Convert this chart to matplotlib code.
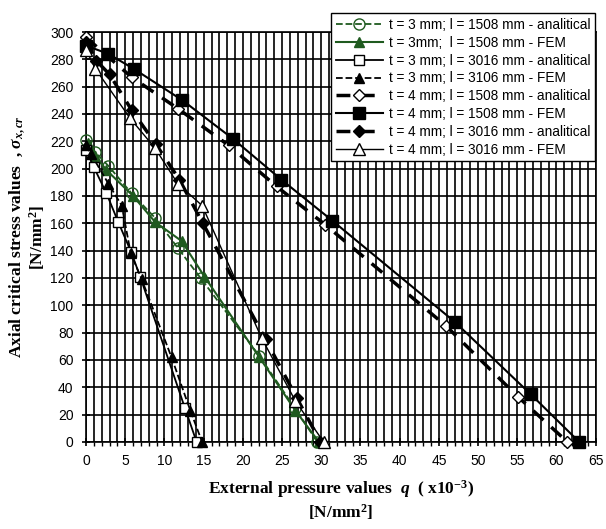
import matplotlib
matplotlib.use("Agg")
from matplotlib import pyplot as plt
from matplotlib.ticker import MultipleLocator

# data (q in x10^-3 N/mm2, sigma in N/mm2)
q_3_1508_an = [0, 1.2, 2.85, 5.8, 8.8, 11.7, 14.6, 22.1, 26.6, 29.5]
s_3_1508_an = [221, 212, 202, 182, 164, 142, 120, 63, 25, 0]

q_3_1508_fem = [0.3, 1.2, 2.6, 6.0, 8.8, 12.2, 15.1, 22.1, 26.7, 29.7]
s_3_1508_fem = [219, 209, 199, 180, 161, 147, 121, 62, 23, 0]

q_3_3016_an = [0, 1.0, 2.6, 4.1, 5.75, 6.9, 12.6, 14.1]
s_3_3016_an = [214, 201, 182, 161, 139, 121, 25, 0]

q_3_3106_fem = [0, 0.6, 2.85, 4.55, 5.7, 7.1, 10.9, 13.3, 14.8]
s_3_3106_fem = [217, 211, 189, 173, 138, 119, 62, 23, 0]

q_4_1508_an = [0, 5.8, 11.7, 18.2, 24.3, 30.5, 45.9, 55.1, 61.4]
s_4_1508_an = [296, 267, 244, 217, 187, 159, 85, 33, 0]

q_4_1508_fem = [0, 2.85, 6.1, 12.3, 18.7, 24.9, 31.4, 47.0, 56.7, 62.9]
s_4_1508_fem = [290, 284, 273, 250, 222, 192, 162, 88, 35, 0]

q_4_3016_an = [0, 1.3, 3.0, 5.8, 8.9, 11.9, 14.9, 22.9, 26.9, 29.9]
s_4_3016_an = [293, 279, 269, 243, 218, 192, 160, 75, 32, 0]

q_4_3016_fem = [0, 1.2, 5.6, 8.8, 11.7, 14.8, 22.4, 26.7, 30.3]
s_4_3016_fem = [287, 273, 237, 215, 189, 173, 76, 30, 0]

green = '#1f5a1f'

plt.rcParams['font.family'] = 'Liberation Sans'
plt.rcParams['mathtext.fontset'] = 'custom'
plt.rcParams['mathtext.rm'] = 'Liberation Serif:bold'
plt.rcParams['mathtext.it'] = 'Liberation Serif:italic:bold'
plt.rcParams['mathtext.bf'] = 'Liberation Serif:bold'
plt.rcParams['mathtext.bfit'] = 'Liberation Serif:italic:bold'

fig = plt.figure(figsize=(6.06, 5.29), dpi=100)
ax = fig.add_axes([0.142, 0.1645, 0.841, 0.775])

ax.plot(q_3_1508_an, s_3_1508_an, color=green, ls='--', lw=1.3, marker='o', ms=8,
        mfc='none', mec=green, label='t = 3 mm; l = 1508 mm - analitical', clip_on=False, zorder=3)
ax.plot(q_3_1508_fem, s_3_1508_fem, color=green, ls='-', lw=1.5, marker='^', ms=7,
        mfc=green, mec=green, label='t = 3mm;  l = 1508 mm - FEM', clip_on=False, zorder=3)
ax.plot(q_3_3016_an, s_3_3016_an, color='black', ls='-', lw=1.3, marker='s', ms=7,
        mfc='white', mec='black', label='t = 3 mm; l = 3016 mm - analitical', clip_on=False, zorder=3)
ax.plot(q_3_3106_fem, s_3_3106_fem, color='black', ls='--', lw=1.3, marker='^', ms=7,
        mfc='black', mec='black', label='t = 3 mm; l = 3106 mm - FEM', clip_on=False, zorder=3)
ax.plot(q_4_1508_an, s_4_1508_an, color='black', ls=(0, (4, 3)), lw=2.5, marker='D', ms=6,
        mfc='white', mec='black', label='t = 4 mm; l = 1508 mm - analitical', clip_on=False, zorder=3)
ax.plot(q_4_1508_fem, s_4_1508_fem, color='black', ls='-', lw=1.5, marker='s', ms=8,
        mfc='black', mec='black', label='t = 4 mm; l = 1508 mm - FEM', clip_on=False, zorder=3)
ax.plot(q_4_3016_an, s_4_3016_an, color='black', ls=(0, (4, 3)), lw=2.5, marker='D', ms=6,
        mfc='black', mec='black', label='t = 4 mm; l = 3016 mm - analitical', clip_on=False, zorder=3)
ax.plot(q_4_3016_fem, s_4_3016_fem, color='black', ls='-', lw=1.0, marker='^', ms=8,
        mfc='white', mec='black', label='t = 4 mm; l = 3016 mm - FEM', clip_on=False, zorder=3)

ax.set_xlim(0, 65)
ax.set_ylim(0, 300)
ax.xaxis.set_major_locator(MultipleLocator(5))
ax.xaxis.set_minor_locator(MultipleLocator(1))
ax.yaxis.set_major_locator(MultipleLocator(20))
ax.grid(True, which='major', color='black', lw=1.2)
ax.grid(True, which='minor', axis='x', color='black', lw=1.2)
ax.tick_params(which='major', direction='inout', length=6, width=1.2, labelsize=10, pad=6)
ax.tick_params(which='minor', length=3, width=1, direction='out')
for sp in ax.spines.values():
    sp.set_linewidth(1.2)

ax.set_xlabel('External pressure values  $q$  ( x10$^{-3}$)\n[N/mm$^2$]',
              family='Liberation Serif', weight='bold', fontsize=12.5, labelpad=7, linespacing=1.15)
ax.set_ylabel('Axial critical stress values  , $\\boldsymbol{\\sigma}_{x,cr}$\n[N/mm$^2$]',
              family='Liberation Serif', weight='bold', fontsize=12.5, labelpad=2, linespacing=1.0)

leg = fig.legend(loc='upper right', bbox_to_anchor=(0.993, 0.988), fontsize=9.8,
                 frameon=True, fancybox=False, framealpha=1, edgecolor='black',
                 labelspacing=0.28, handlelength=3.5, handletextpad=0.4, borderpad=0.35)
leg.get_frame().set_linewidth(1.0)

plt.savefig('out.png', dpi=100)
